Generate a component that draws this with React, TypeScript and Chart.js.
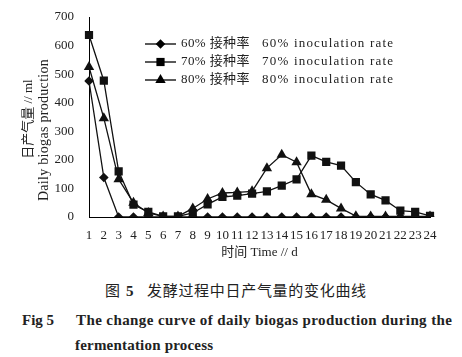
import React, { useEffect, useRef } from "react";
import { Chart, registerables } from "chart.js";
Chart.register(...registerables);

const days = ["1","2","3","4","5","6","7","8","9","10","11","12","13","14","15","16","17","18","19","20","21","22","23","24"];
const rate60 = [476, 138, 0, 0, 0, 0, 0, 0, 0, 0, 0, 0, 0, 0, 0, 0, 0, 0, 0, 0, 0, 0, 0, 0];
const rate70 = [637, 477, 160, 43, 18, 2, 2, 14, 44, 70, 75, 82, 90, 110, 132, 215, 193, 180, 122, 79, 58, 22, 18, 4];
const rate80 = [525, 346, 132, 50, 14, 2, 2, 30, 63, 84, 86, 90, 171, 218, 192, 80, 60, 30, 3, 2, 2, 2, 2, 2];
const yTicks = [0, 100, 200, 300, 400, 500, 600, 700];
const legendCn = ["60% 接种率", "70% 接种率", "80% 接种率"];
const legendEn = ["60% inoculation rate", "70% inoculation rate", "80% inoculation rate"];
const markerStyles = ["rectRot", "rect", "triangle"];
const yTitleCn = "日产气量 // ml";
const yTitleEn = "Daily biogas production";
const xTitle = "时间 Time // d";

const FONT = "'Liberation Serif', 'Noto Sans CJK SC', serif";

function drawMarker(ctx: CanvasRenderingContext2D, style: string, x: number, y: number, r: number) {
  ctx.beginPath();
  if (style === "rectRot") {
    ctx.moveTo(x, y - r);
    ctx.lineTo(x + r, y);
    ctx.lineTo(x, y + r);
    ctx.lineTo(x - r, y);
  } else if (style === "rect") {
    const s = r * Math.SQRT1_2;
    ctx.rect(x - s, y - s, 2 * s, 2 * s);
  } else {
    const w = r * Math.sqrt(3) / 2;
    ctx.moveTo(x, y - r);
    ctx.lineTo(x + w, y + r / 2);
    ctx.lineTo(x - w, y + r / 2);
  }
  ctx.closePath();
  ctx.fill();
}

const legendPlugin = {
  id: "customLegend",
  afterDraw(chart: any) {
    const ctx = chart.ctx as any;
    ctx.save();
    const rows = [44, 62, 80];
    chart.data.datasets.forEach((ds: any, i: number) => {
      const y = rows[i];
      ctx.strokeStyle = "#000";
      ctx.fillStyle = "#000";
      ctx.lineWidth = 1.3;
      ctx.beginPath();
      ctx.moveTo(145, y);
      ctx.lineTo(176, y);
      ctx.stroke();
      drawMarker(ctx, markerStyles[i], 160.5, y, ds.pointRadius);
      ctx.font = "13px " + FONT;
      ctx.textBaseline = "middle";
      ctx.textAlign = "left";
      ctx.fillStyle = "#222";
      ctx.letterSpacing = "0.4px";
      ctx.fillText(legendCn[i], 181, y);
      ctx.letterSpacing = "1.2px";
      ctx.fillText(legendEn[i], 262, y);
      ctx.letterSpacing = "0px";
    });
    // y-axis title (two rotated lines)
    ctx.fillStyle = "#222";
    ctx.textAlign = "center";
    ctx.textBaseline = "middle";
    ctx.save();
    ctx.translate(29, 119);
    ctx.rotate(-Math.PI / 2);
    ctx.font = "13px " + FONT;
    ctx.fillText(yTitleCn, 0, 0);
    ctx.restore();
    ctx.save();
    ctx.translate(44, 130);
    ctx.rotate(-Math.PI / 2);
    ctx.font = "14px " + FONT;
    ctx.letterSpacing = "0.3px";
    ctx.fillText(yTitleEn, 0, 0);
    ctx.restore();
    ctx.restore();
  },
};

export default function App() {
  const ref = useRef<HTMLCanvasElement>(null);
  useEffect(() => {
    document.body.style.margin = "0";
    const mk = (label: string, data: number[], style: string, r: number) => ({
      label,
      data,
      borderColor: "#111",
      backgroundColor: "#111",
      borderWidth: 1.3,
      pointStyle: style,
      pointRadius: r,
      pointBackgroundColor: "#111",
      pointBorderColor: "#111",
      pointBorderWidth: 0,
      tension: 0,
    });
    const chart = new Chart(ref.current!, {
      type: "line",
      data: {
        labels: days,
        datasets: [
          mk(legendEn[0], rate60, "rectRot", 4.8),
          mk(legendEn[1], rate70, "rect", 5.8),
          mk(legendEn[2], rate80, "triangle", 6),
        ],
      },
      options: {
        animation: false,
        responsive: false,
        layout: { padding: { top: 17, right: 32, left: 0, bottom: 0 } },
        plugins: { legend: { display: false }, tooltip: { enabled: false } },
        scales: {
          x: {
            type: "category",
            offset: false,
            grid: { display: false },
            border: { color: "#000", width: 1 },
            ticks: { autoSkip: false, maxRotation: 0, padding: 3, color: "#222", font: { family: FONT, size: 13 } },
            title: { display: true, text: xTitle, color: "#222", font: { family: FONT, size: 13 }, padding: { top: 0, bottom: 10 } },
            afterFit: (s: any) => { s.height = 53; },
          },
          y: {
            min: 0,
            max: 700,
            afterBuildTicks: (s: any) => { s.ticks = yTicks.map((v) => ({ value: v })); },
            grid: { display: false },
            border: { color: "#000", width: 1 },
            ticks: { padding: 7, color: "#222", font: { family: FONT, size: 13 } },
            title: { display: false },
            afterFit: (s: any) => { s.width = 89; },
          },
        },
      },
      plugins: [legendPlugin],
    } as any);
    return () => chart.destroy();
  }, []);
  const cap: React.CSSProperties = { position: "absolute", fontFamily: FONT, color: "#222", whiteSpace: "nowrap", lineHeight: "18px" };
  return (
    <div style={{ position: "relative", width: 462, height: 357, background: "#fff" }}>
      <canvas ref={ref} width={462} height={270} style={{ position: "absolute", left: 0, top: 0 }} />
      <div style={{ ...cap, left: 105, top: 282, fontSize: 15 }}>图</div>
      <div style={{ ...cap, left: 126, top: 282, fontSize: 15, fontWeight: "bold" }}>5</div>
      <div style={{ ...cap, left: 147, top: 282, fontSize: 15, letterSpacing: "0.7px" }}>发酵过程中日产气量的变化曲线</div>
      <div style={{ ...cap, left: 22, top: 311, fontSize: 15, fontWeight: "bold" }}>Fig 5</div>
      <div style={{ ...cap, left: 76, top: 311, fontSize: 15, fontWeight: "bold", letterSpacing: "0.4px" }}>
        The change curve of daily biogas production during the
      </div>
      <div style={{ ...cap, left: 75, top: 336, fontSize: 15, fontWeight: "bold", letterSpacing: "0.2px" }}>fermentation process</div>
    </div>
  );
}
